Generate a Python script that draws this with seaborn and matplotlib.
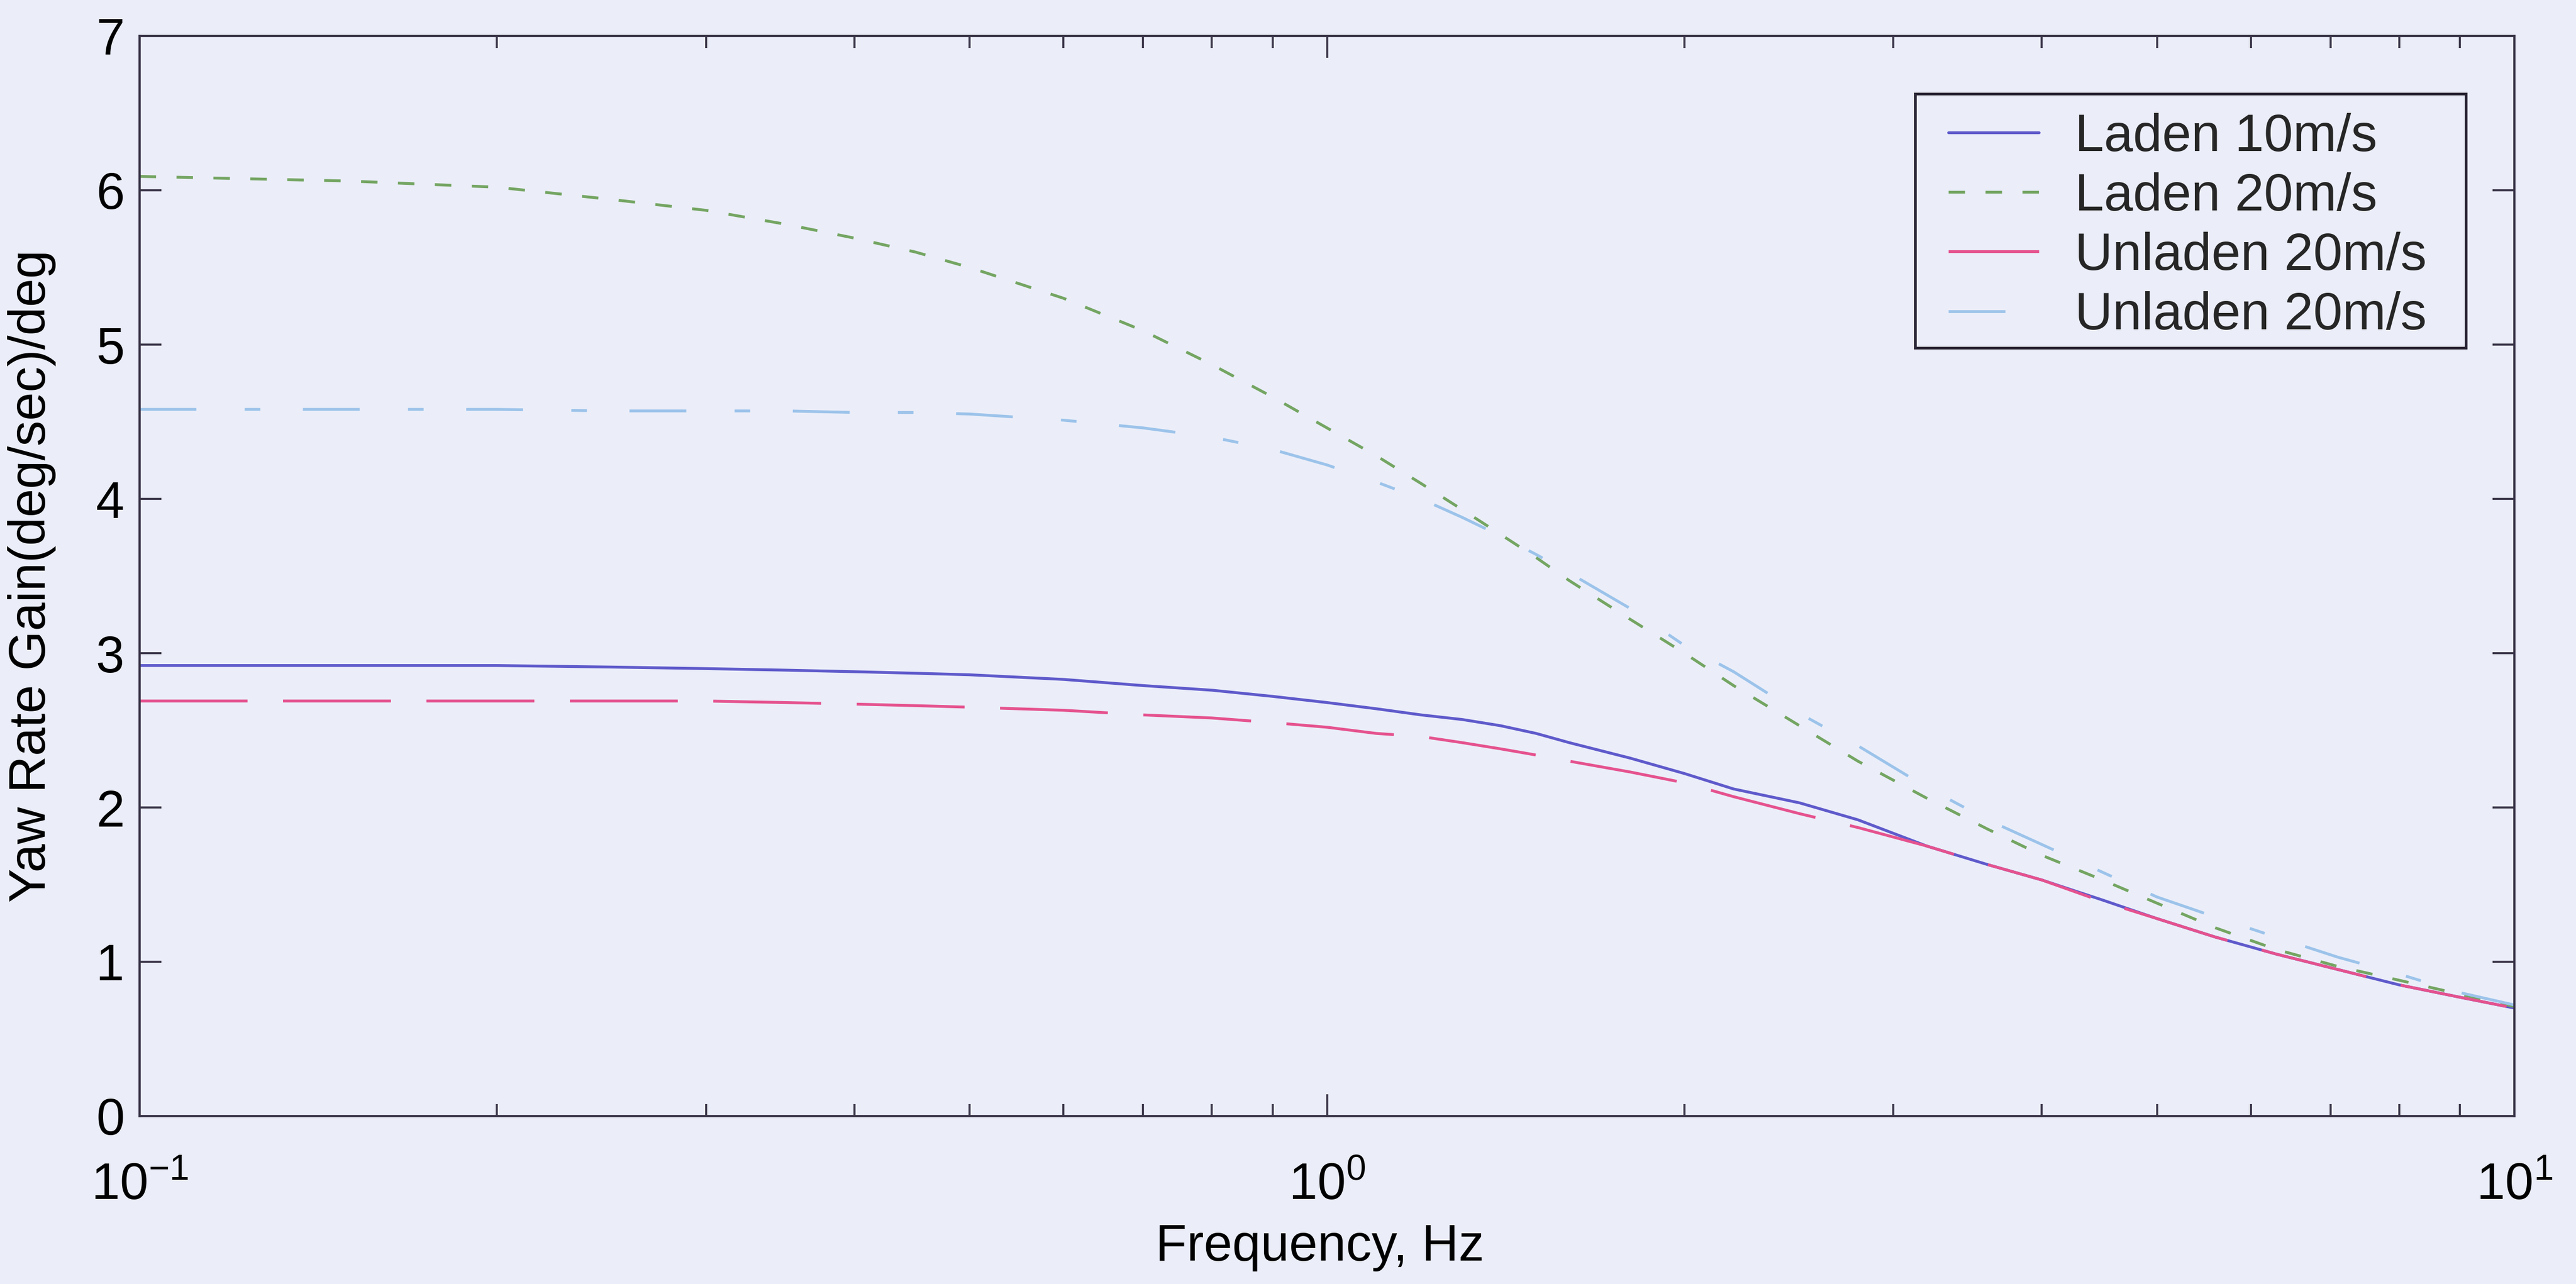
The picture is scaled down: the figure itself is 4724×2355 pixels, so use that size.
import matplotlib
matplotlib.use("Agg")
import matplotlib.pyplot as plt
from matplotlib.patches import Rectangle
from matplotlib.ticker import LogLocator, NullLocator, NullFormatter, FixedLocator
import numpy as np
import pandas as pd
import seaborn as sns

# Frequency response of yaw rate gain
freq_hz = [0.1, 0.15, 0.2, 0.25, 0.3, 0.35, 0.4, 0.45, 0.5, 0.6, 0.7, 0.8, 0.9,
           1.0, 1.1, 1.2, 1.3, 1.4, 1.5, 1.6, 1.8, 2.0, 2.2, 2.5, 2.8, 3.2, 3.6,
           4.0, 4.5, 5.0, 5.6, 6.3, 7.1, 8.0, 9.0, 10.0]

laden_10 = [2.92, 2.92, 2.92, 2.91, 2.90, 2.89, 2.88, 2.87, 2.86, 2.83, 2.79, 2.76, 2.72,
            2.68, 2.64, 2.60, 2.57, 2.53, 2.48, 2.42, 2.32, 2.22, 2.12, 2.03, 1.92, 1.75, 1.63,
            1.53, 1.40, 1.28, 1.16, 1.05, 0.95, 0.85, 0.77, 0.70]

laden_20 = [6.09, 6.06, 6.02, 5.94, 5.87, 5.78, 5.69, 5.60, 5.50, 5.30, 5.09, 4.87, 4.66,
            4.46, 4.28, 4.10, 3.93, 3.77, 3.62, 3.47, 3.22, 3.00, 2.79, 2.53, 2.30, 2.06, 1.86,
            1.69, 1.53, 1.38, 1.22, 1.08, 0.97, 0.88, 0.79, 0.71]

unladen_20_a = [2.69, 2.69, 2.69, 2.69, 2.69, 2.68, 2.67, 2.66, 2.65, 2.63, 2.60, 2.58, 2.55,
                2.52, 2.48, 2.46, 2.42, 2.38, 2.34, 2.30, 2.23, 2.16, 2.07, 1.96, 1.87, 1.75, 1.63,
                1.53, 1.39, 1.28, 1.16, 1.05, 0.95, 0.85, 0.77, 0.70]

unladen_20_b = [4.58, 4.58, 4.58, 4.57, 4.57, 4.57, 4.56, 4.56, 4.55, 4.51, 4.46, 4.40, 4.32,
                4.22, 4.11, 4.00, 3.88, 3.76, 3.64, 3.52, 3.29, 3.05, 2.88, 2.61, 2.40, 2.13, 1.92,
                1.76, 1.58, 1.42, 1.29, 1.16, 1.03, 0.92, 0.80, 0.72]

series_ids = ["L10", "L20", "U20a", "U20b"]
legend_labels = ["Laden 10m/s", "Laden 20m/s", "Unladen 20m/s", "Unladen 20m/s"]
series_values = [laden_10, laden_20, unladen_20_a, unladen_20_b]

y_ticks = [0, 1, 2, 3, 4, 5, 6, 7]

df = pd.concat(
    [pd.DataFrame({"freq": freq_hz, "gain": vals, "series": sid})
     for sid, vals in zip(series_ids, series_values)],
    ignore_index=True,
)

BG = "#EBEEF9"
INK = "#3A3548"

sns.set_theme(style="ticks")
plt.rcParams["font.family"] = ["Liberation Sans", "DejaVu Sans"]
plt.rcParams["mathtext.fontset"] = "custom"
plt.rcParams["mathtext.rm"] = "Liberation Sans"
plt.rcParams["mathtext.it"] = "Liberation Sans:italic"
plt.rcParams["mathtext.bf"] = "Liberation Sans:bold"

W, H, DPI = 4724, 2355, 300
fig = plt.figure(figsize=(W / DPI, H / DPI), dpi=DPI, facecolor=BG)
ax_left, ax_right, ax_top, ax_bottom = 256, 4611, 66, 2047
ax = fig.add_axes([ax_left / W, 1 - ax_bottom / H,
                   (ax_right - ax_left) / W, (ax_bottom - ax_top) / H])
ax.set_facecolor(BG)

palette = {"L10": "#5F5ACB", "L20": "#74A562", "U20a": "#E5528E", "U20b": "#9CC3EA"}
dashes = {"L10": "", "L20": (5.8, 7.2), "U20a": (38, 12.5), "U20b": (20, 17, 5.5, 15)}

sns.lineplot(data=df, x="freq", y="gain", hue="series", style="series",
             hue_order=series_ids, style_order=series_ids,
             palette=palette, dashes=dashes, linewidth=1.25, legend=False, ax=ax)
for ln in ax.get_lines():
    ln.set_dash_capstyle("butt")

ax.set_xscale("log")
ax.set_xlim(0.1, 10)
ax.set_ylim(0, 7)
ax.yaxis.set_major_locator(FixedLocator(y_ticks))
ax.yaxis.set_minor_locator(NullLocator())
ax.xaxis.set_major_locator(LogLocator(base=10))
ax.xaxis.set_minor_locator(LogLocator(base=10, subs=np.arange(2, 10)))
ax.xaxis.set_minor_formatter(NullFormatter())

for sp in ax.spines.values():
    sp.set_visible(True)
    sp.set_color(INK)
    sp.set_linewidth(1.0)

ax.tick_params(which="both", direction="in", top=True, right=True,
               color=INK, width=0.9, labelcolor="black", labelsize=22.5)
ax.tick_params(which="major", length=9.6)
ax.tick_params(which="minor", length=5.3)
ax.tick_params(axis="y", pad=6.7)
ax.tick_params(axis="x", pad=20)

ax.set_xlabel("Frequency, Hz", fontsize=22.5, color="black")
ax.set_ylabel("Yaw Rate Gain(deg/sec)/deg", fontsize=22.5, color="black")
ax.xaxis.set_label_coords(0.497, -0.099)
ax.yaxis.set_label_coords(-0.0351, 0.5)
ax.grid(False)

# Legend box drawn as a separate frame so its inner margins can differ per side
box_x0, box_x1 = 0.7477, 0.9796
box_y0, box_y1 = 0.7113, 0.9465
ax.add_patch(Rectangle((box_x0, box_y0), box_x1 - box_x0, box_y1 - box_y0,
                       transform=ax.transAxes, facecolor=BG, edgecolor="#2A2535",
                       linewidth=1.2, zorder=5))
leg = ax.legend(ax.get_lines()[:4], legend_labels, loc="upper left",
                bbox_to_anchor=(0.7617, 0.929), borderaxespad=0, borderpad=0,
                fontsize=23, handlelength=1.73, handletextpad=0.69,
                labelspacing=0.2, frameon=False)
leg.set_zorder(6)

fig.savefig("out.png", dpi=DPI, facecolor=BG)
